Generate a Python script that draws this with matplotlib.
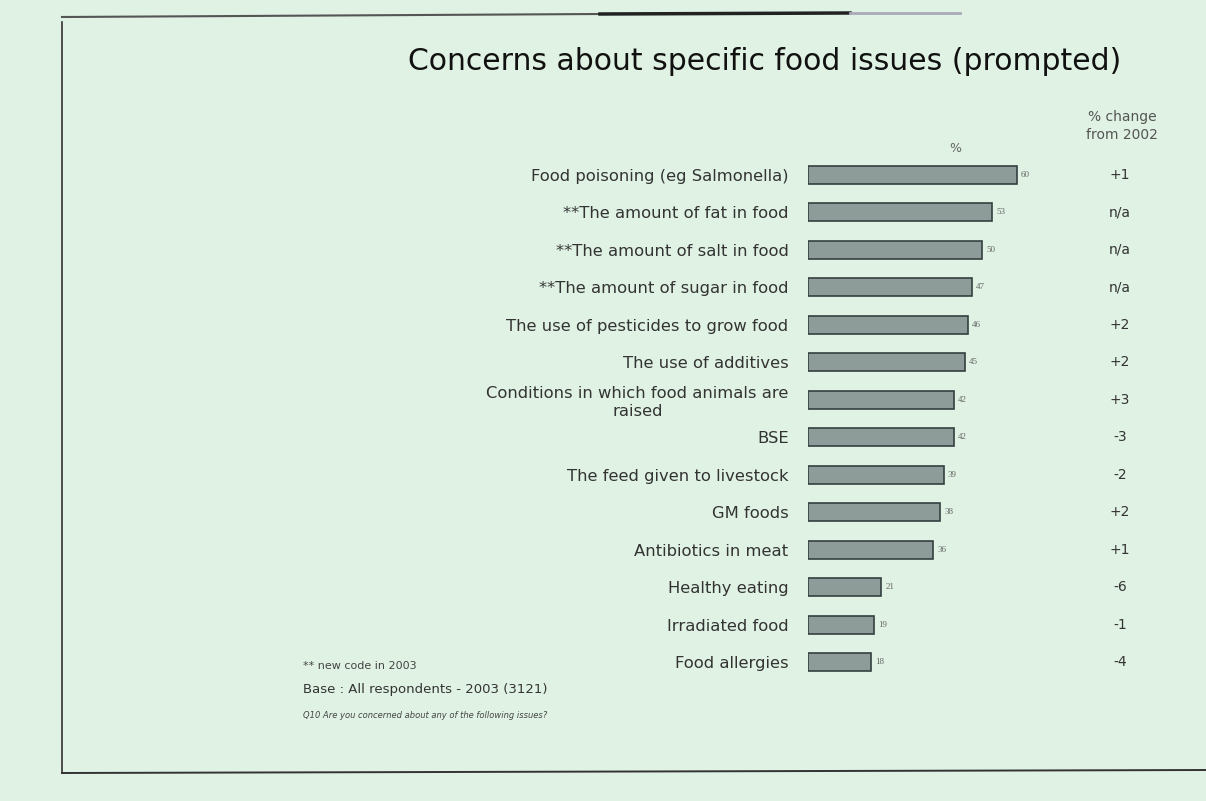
import numpy as np
import matplotlib.pyplot as plt
from matplotlib import transforms
from matplotlib.lines import Line2D

# data
issues = [
    "Food poisoning (eg Salmonella)",
    "**The amount of fat in food",
    "**The amount of salt in food",
    "**The amount of sugar in food",
    "The use of pesticides to grow food",
    "The use of additives",
    "Conditions in which food animals are\nraised",
    "BSE",
    "The feed given to livestock",
    "GM foods",
    "Antibiotics in meat",
    "Healthy eating",
    "Irradiated food",
    "Food allergies",
]
pct = [60, 53, 50, 47, 46, 45, 42, 42, 39, 38, 36, 21, 19, 18]
change = ["+1", "n/a", "n/a", "n/a", "+2", "+2", "+3", "-3", "-2", "+2", "+1", "-6", "-1", "-4"]

bg = "#dff2e3"
W, H = 1206, 801
fig = plt.figure(figsize=(W / 100, H / 100), dpi=100, facecolor=bg)


def px(x, y):
    return x / W, 1 - y / H


# bar area: 100% spans 348 px starting at x=808, rows 37.5 px apart
x0, y_top = px(808, 156)
_, y_bot = px(808, 681)
ax = fig.add_axes([x0, y_bot, 348 / W, y_top - y_bot])
ax.set_facecolor("none")
ax.set_xlim(0, 100)
ax.set_ylim(len(issues) - 0.5, -0.5)

y = np.arange(len(issues))
ax.barh(y, pct, height=0.48, color="#8d9b99", edgecolor="#34403f", linewidth=1.2)
for yi, v in zip(y, pct):
    ax.text(v + 1.2, yi, str(v), fontsize=6.5, color="#666", va="center",
            family="Liberation Serif")

ax.set_yticks(y)
ax.set_yticklabels(issues, fontsize=11.8, color="#333", multialignment="center")
ax.tick_params(axis="y", length=0, pad=14)
ax.set_xticks([])
for s in ax.spines.values():
    s.set_visible(False)

# change column
tr = transforms.blended_transform_factory(fig.transFigure, ax.transData)
for yi, c in zip(y, change):
    ax.text(1120 / W, yi, c, transform=tr, ha="center", va="center",
            fontsize=10, color="#333")

fig.text(*px(955, 148), "%", ha="center", va="center", fontsize=9, color="#666")
fig.text(*px(1122, 126), "% change\nfrom 2002", ha="center", va="center",
         fontsize=10, color="#555", linespacing=1.3)

fig.text(*px(765, 62), "Concerns about specific food issues (prompted)",
         ha="center", va="center", fontsize=21.5, color="#111")

fig.text(*px(303, 666), "** new code in 2003", fontsize=8, color="#444", va="center")
fig.text(*px(303, 690), "Base : All respondents - 2003 (3121)", fontsize=9.5,
         color="#333", va="center")
fig.text(*px(303, 715), "Q10 Are you concerned about any of the following issues?",
         fontsize=6, color="#444", va="center", style="italic")

# slide frame
fig.add_artist(Line2D([62 / W, 62 / W], [1 - 22 / H, 1 - 773 / H], color="#333", lw=1.2))
fig.add_artist(Line2D([62 / W, 1206 / W], [1 - 773 / H, 1 - 770 / H], color="#333", lw=1.4))
fig.add_artist(Line2D([62 / W, 600 / W], [1 - 17 / H, 1 - 14 / H], color="#555", lw=1.5))
fig.add_artist(Line2D([600 / W, 850 / W], [1 - 14 / H, 1 - 13 / H], color="#222", lw=2.5))
fig.add_artist(Line2D([850 / W, 960 / W], [1 - 13 / H, 1 - 13 / H], color="#aab", lw=2))

fig.savefig("out.png", dpi=100, facecolor=bg)
